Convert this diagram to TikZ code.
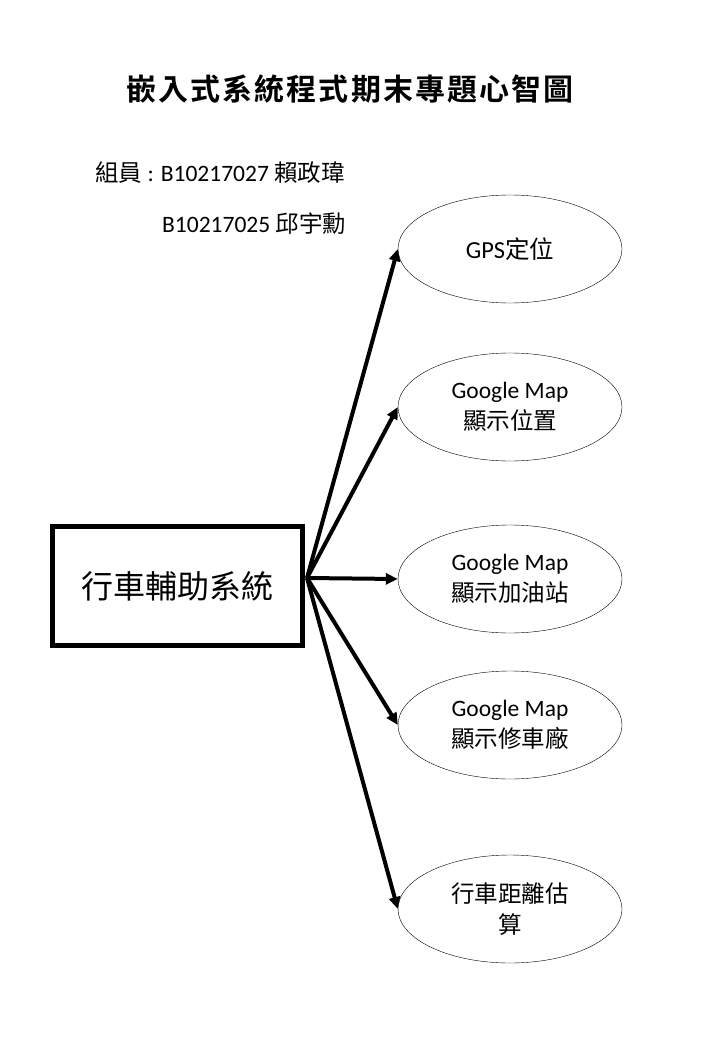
\documentclass[tikz,border=0pt]{standalone}
\usepackage{fontspec}
\setmainfont{Carlito}
\newfontfamily\cjk{Noto Sans CJK TC}
\newfontfamily\cjkb[LetterSpace=7]{Noto Sans CJK TC Bold}
\usetikzlibrary{shapes.geometric,arrows.meta}
\begin{document}
\begin{tikzpicture}[x=1pt,y=-1pt,
  idea/.style={ellipse,draw,thin,minimum width=224pt,minimum height=108pt,inner sep=0pt,align=center,font=\fontsize{23.5}{31}\selectfont},
  link/.style={line width=4pt,-{Triangle[length=12pt,width=11pt]}}]
\useasboundingbox (0,0) rectangle (720,1040);
\node[font=\cjkb\fontsize{30}{32}\selectfont] (title) at (350,89) {嵌入式系統程式期末專題心智圖};
\node[anchor=base west,inner sep=0pt,font=\fontsize{23.5}{26}\selectfont] (m1) at (95,182) {{\cjk 組員} : B10217027 {\cjk 賴政瑋}};
\node[anchor=base west,inner sep=0pt,font=\fontsize{23.5}{26}\selectfont] (m2) at (162,233) {B10217025 {\cjk 邱宇勳}};
\node[draw,line width=5pt,minimum width=250pt,minimum height=119pt,font=\cjk\fontsize{32}{34}\selectfont] (main) at (177.5,586) {行車輔助系統};
\coordinate (hub) at (307,578);
\node[idea,font=\fontsize{24.5}{30}\selectfont] (e1) at (510,249) {GPS{\cjk 定位}};
\node[idea] (e2) at (510,407) {Google Map\\{\cjk 顯示位置}};
\node[idea] (e3) at (510,579) {Google Map\\{\cjk 顯示加油站}};
\node[idea] (e4) at (510,725) {Google Map\\{\cjk 顯示修車廠}};
\node[idea] (e5) at (510,909) {{\cjk 行車距離估}\\{\cjk 算}};
\draw[link] (hub) -- (e1.west);
\draw[link] (hub) -- (e2.west);
\draw[link] (hub) -- (e3.west);
\draw[link] (hub) -- (e4.west);
\draw[link] (hub) -- (e5.west);
\end{tikzpicture}
\end{document}
